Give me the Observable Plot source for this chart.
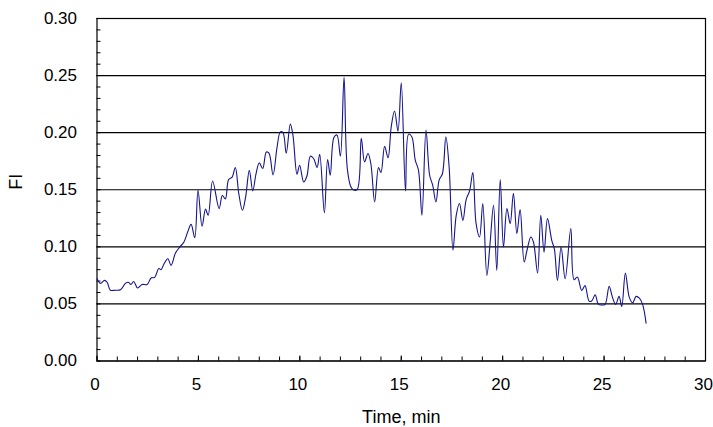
<!DOCTYPE html>
<html>
<head>
<meta charset="utf-8">
<script src="https://cdn.jsdelivr.net/npm/d3@7"></script>
<script src="https://cdn.jsdelivr.net/npm/@observablehq/plot@0.6"></script>
<style>
  html, body { margin: 0; padding: 0; background: #fff; }
</style>
</head>
<body>
<div id="chart"></div>
<script>
const time = [0.00,0.17,0.37,0.50,0.66,0.90,1.16,1.40,1.55,1.67,1.81,2.00,2.22,2.47,2.68,2.83,3.05,3.16,3.29,3.49,3.65,3.87,4.08,4.28,4.47,4.64,4.82,4.98,5.18,5.35,5.48,5.70,6.02,6.18,6.33,6.49,6.66,6.82,6.99,7.17,7.33,7.51,7.68,7.84,8.00,8.17,8.35,8.48,8.68,8.88,9.04,9.17,9.33,9.53,9.66,9.86,9.99,10.19,10.35,10.52,10.68,10.85,10.98,11.21,11.37,11.50,11.68,11.83,12.00,12.18,12.35,12.57,12.82,13.03,13.19,13.36,13.50,13.69,13.88,14.00,14.18,14.35,14.51,14.67,14.84,15.00,15.21,15.36,15.52,15.69,15.85,16.02,16.22,16.40,16.55,16.71,16.87,17.03,17.20,17.36,17.55,17.71,17.87,18.04,18.20,18.37,18.53,18.69,18.86,19.02,19.22,19.38,19.55,19.71,19.88,20.04,20.21,20.37,20.53,20.70,20.86,21.06,21.20,21.39,21.52,21.72,21.88,22.04,22.21,22.42,22.55,22.70,22.88,23.08,23.36,23.52,23.68,23.90,24.06,24.26,24.39,24.56,24.72,24.89,25.05,25.25,25.41,25.57,25.74,25.87,26.05,26.24,26.41,26.58,26.74,26.90,27.07];
const fi = [0.072,0.068,0.0706,0.069,0.062,0.062,0.0624,0.068,0.069,0.067,0.0697,0.064,0.067,0.067,0.073,0.073,0.081,0.080,0.0846,0.0896,0.0838,0.0946,0.0998,0.104,0.113,0.1197,0.108,0.1496,0.118,0.133,0.1276,0.1577,0.1335,0.145,0.142,0.159,0.161,0.1695,0.1467,0.132,0.144,0.167,0.149,0.164,0.1735,0.1686,0.183,0.182,0.163,0.1876,0.2007,0.200,0.182,0.2075,0.1978,0.1636,0.1715,0.1568,0.162,0.1794,0.1774,0.1695,0.181,0.1297,0.1765,0.1627,0.1958,0.198,0.1794,0.2484,0.167,0.151,0.150,0.195,0.1744,0.1818,0.173,0.1393,0.1695,0.165,0.188,0.178,0.2057,0.219,0.2013,0.2437,0.149,0.1987,0.1965,0.176,0.167,0.1276,0.2022,0.1627,0.154,0.1393,0.1586,0.164,0.1963,0.170,0.097,0.1276,0.138,0.1232,0.1414,0.149,0.165,0.1204,0.1086,0.138,0.075,0.1033,0.1364,0.0794,0.159,0.0998,0.1335,0.1204,0.147,0.1116,0.1326,0.0867,0.097,0.1086,0.104,0.077,0.1276,0.0954,0.1247,0.1057,0.098,0.0706,0.0998,0.072,0.116,0.0712,0.0735,0.0618,0.066,0.0525,0.0525,0.058,0.0496,0.049,0.0496,0.0654,0.056,0.0496,0.0566,0.0478,0.077,0.056,0.051,0.0566,0.055,0.0496,0.0332];

const xMajorTicks = [0, 5, 10, 15, 20, 25, 30];
const xMinorTicks = d3.range(0, 31, 1);
const yMajorTicks = [0, 0.05, 0.10, 0.15, 0.20, 0.25, 0.30];
const yMinorTicks = d3.range(0, 31, 1).map(d => d / 100);
const xTitle = "Time, min";
const yTitle = "FI";

const data = time.map((t, i) => ({t, v: fi[i]}));

const chart = Plot.plot({
  width: 713,
  height: 427,
  marginLeft: 96.5,
  marginRight: 8,
  marginTop: 18,
  marginBottom: 66.5,
  style: {fontFamily: "'Liberation Sans', Arial, sans-serif", fontSize: "17px", color: "#000", background: "#fff"},
  x: {domain: [0, 30], label: null},
  y: {domain: [0, 0.3], label: null},
  marks: [
    Plot.gridY(yMajorTicks, {stroke: "#000", strokeOpacity: 1, strokeWidth: 1.2}),
    Plot.frame({stroke: "#000", strokeWidth: 1.2}),
    Plot.axisY(yMinorTicks, {tickSize: 4, dx: 4, text: null, strokeWidth: 1, label: null}),
    Plot.axisY(yMajorTicks, {tickSize: 0, tickPadding: 20, tickFormat: d3.format(".2f"), label: null}),
    Plot.axisX(xMinorTicks, {tickSize: 4, dy: -4, text: null, strokeWidth: 1, label: null}),
    Plot.axisX(xMajorTicks, {tickSize: 5, dy: -5, text: null, strokeWidth: 1, label: null}),
    Plot.axisX(xMajorTicks, {tickSize: 0, tickPadding: 17, dx: -2, label: null}),
    Plot.line(data, {x: "t", y: "v", stroke: "#14148c", strokeWidth: 1.1, curve: "catmull-rom"}),
    Plot.text([xTitle], {frameAnchor: "bottom", dy: 56, lineAnchor: "middle", fontSize: 18, letterSpacing: "0.6px"}),
    Plot.text([yTitle], {frameAnchor: "left", dx: -80.5, rotate: -90, lineAnchor: "middle", fontSize: 18})
  ]
});
document.getElementById("chart").appendChild(chart);
</script>
</body>
</html>
